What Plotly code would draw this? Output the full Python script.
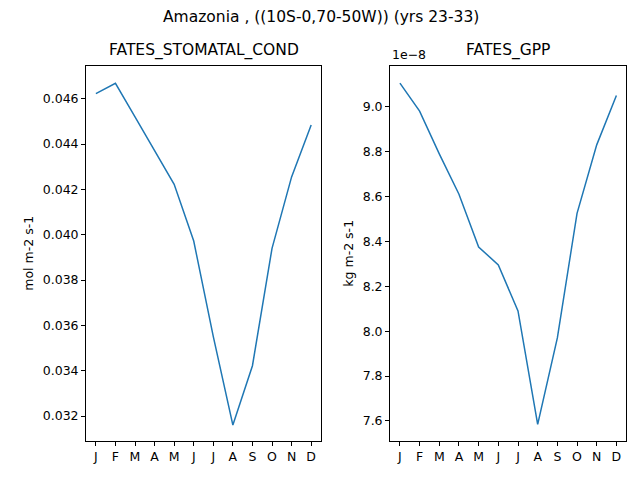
import plotly.graph_objects as go
from plotly.subplots import make_subplots

months = ['J', 'F', 'M', 'A', 'M', 'J', 'J', 'A', 'S', 'O', 'N', 'D']
stomatal = [0.04622, 0.04668, 0.04520, 0.04370, 0.04222, 0.03972, 0.03550, 0.03160,
            0.03422, 0.03940, 0.04255, 0.04484]
gpp_1e8 = [9.105, 8.98, 8.79, 8.61, 8.375, 8.295, 8.09, 7.585, 7.97, 8.525, 8.83, 9.05]

fig = make_subplots(rows=1, cols=2, subplot_titles=("FATES_STOMATAL_COND", "FATES_GPP"))
x = list(range(12))
fig.add_trace(go.Scatter(x=x, y=stomatal, mode='lines', line=dict(color='#1f77b4', width=1.5),
                         showlegend=False), row=1, col=1)
fig.add_trace(go.Scatter(x=x, y=gpp_1e8, mode='lines', line=dict(color='#1f77b4', width=1.5),
                         showlegend=False), row=1, col=2)

ax = dict(showline=True, mirror=True, linecolor='black', linewidth=1, showgrid=False,
          zeroline=False, ticks='outside', ticklen=4, tickcolor='black',
          tickfont=dict(size=12.5, color='black'))
d1 = [0.122, 0.489]
d2 = [0.597, 0.966]
dy = [0.098, 0.880]
fig.update_xaxes(**ax, tickvals=x, ticktext=months, range=[-0.5, 11.5])
fig.update_yaxes(**ax)
fig.update_layout(
    width=640, height=480, margin=dict(l=0, r=0, t=0, b=0),
    plot_bgcolor='white', paper_bgcolor='white',
    font=dict(family='DejaVu Sans', color='black'),
    xaxis=dict(domain=d1), xaxis2=dict(domain=d2),
    yaxis=dict(domain=dy, range=[0.03090, 0.04746], dtick=0.002,
               tickformat='.3f', title=dict(text='mol m-2 s-1', font=dict(size=12.5), standoff=6)),
    yaxis2=dict(domain=dy, range=[7.511, 9.183], dtick=0.2, tickformat='.1f',
                title=dict(text='kg m-2 s-1', font=dict(size=12.5), standoff=6)),
)
for a, d in zip(fig.layout.annotations, [d1, d2]):
    a.font = dict(size=15.5, color='black')
    a.x = (d[0] + d[1]) / 2
    a.y = dy[1] + 0.008
    a.yanchor = 'bottom'
fig.add_annotation(text='Amazonia , ((10S-0,70-50W)) (yrs 23-33)', xref='paper', yref='paper',
                   x=0.489, y=1.005, xanchor='center', yanchor='top', showarrow=False,
                   font=dict(size=15.5))
fig.add_annotation(text='1e\u22128', xref='paper', yref='paper', x=d2[0], y=dy[1] + 0.003,
                   xanchor='left', yanchor='bottom', showarrow=False, font=dict(size=12.5))
fig.write_html("out.html")
